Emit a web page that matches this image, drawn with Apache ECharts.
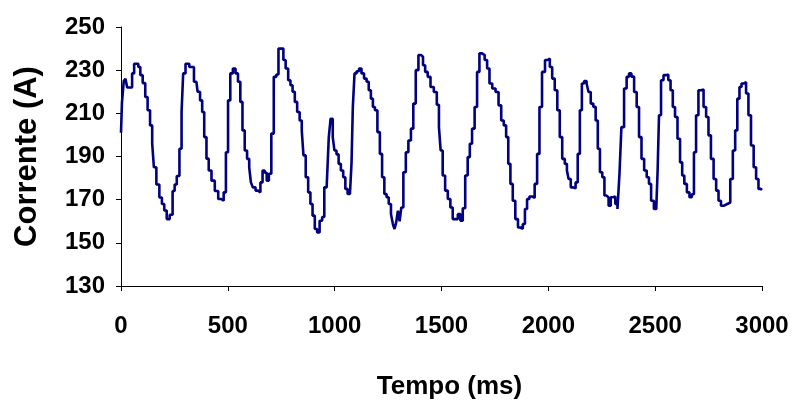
<!DOCTYPE html>
<html>
<head>
<meta charset="utf-8">
<script src="https://cdn.jsdelivr.net/npm/echarts@6/dist/echarts.min.js"></script>
<style>
  html, body { margin: 0; padding: 0; background: #fff; }
  #main { width: 795px; height: 406px; }
</style>
</head>
<body>
<div id="main"></div>
<script>
// tempo (ms) e corrente (A)
const timeMs = [
  0, 9, 17, 25, 33, 48, 56, 67, 76, 86, 95, 108, 119, 130, 142, 150, 158, 173, 186, 197,
  208, 220, 236, 247, 255, 267, 280, 287, 295, 309, 330, 353, 364, 376, 384, 395, 405, 416, 431, 447,
  463, 475, 486, 496, 506, 517, 530, 542, 553, 564, 573, 585, 595, 605, 611, 623, 636, 647, 658, 667,
  678, 686, 698, 709, 721, 733, 741, 756, 764, 777, 788, 798, 808, 819, 830, 842, 850, 858, 871, 881,
  892, 901, 913, 923, 936, 947, 956, 970, 975, 987, 995, 1003, 1014, 1023, 1035, 1045, 1055, 1066, 1077, 1081,
  1089, 1097, 1108, 1120, 1131, 1144, 1155, 1164, 1175, 1183, 1194, 1206, 1217, 1227, 1238, 1248, 1258, 1269, 1276, 1284,
  1292, 1300, 1308, 1316, 1327, 1339, 1351, 1363, 1373, 1386, 1398, 1410, 1417, 1430, 1441, 1456, 1472, 1484, 1492, 1500,
  1511, 1523, 1536, 1547, 1558, 1570, 1583, 1594, 1605, 1617, 1628, 1637, 1649, 1661, 1672, 1683, 1696, 1708, 1719, 1730,
  1745, 1761, 1773, 1786, 1797, 1808, 1817, 1828, 1839, 1852, 1864, 1875, 1886, 1895, 1906, 1917, 1930, 1942, 1953, 1964,
  1977, 1992, 2002, 2012, 2024, 2036, 2048, 2059, 2071, 2083, 2091, 2099, 2111, 2122, 2133, 2142, 2153, 2161, 2174, 2184,
  2192, 2205, 2216, 2227, 2236, 2247, 2258, 2267, 2278, 2286, 2298, 2310, 2317, 2330, 2336, 2348, 2361, 2372, 2383, 2395,
  2408, 2419, 2430, 2442, 2455, 2466, 2476, 2486, 2502, 2509, 2514, 2522, 2533, 2545, 2556, 2567, 2577, 2588, 2598, 2611,
  2622, 2631, 2642, 2655, 2666, 2677, 2686, 2697, 2708, 2720, 2733, 2744, 2755, 2767, 2780, 2791, 2802, 2814, 2830, 2845,
  2858, 2869, 2880, 2889, 2900, 2908, 2920, 2931, 2942, 2955, 2967, 2978, 2989, 3000
];
const currentA = [
  201, 215, 225, 226, 222, 222, 228.5, 233, 233, 231.5, 227.7, 224, 217.6, 211.4, 204.4, 196, 185, 177, 171, 168,
  165, 161, 163, 174, 177, 181, 193.6, 210.6, 228.5, 233, 231.5, 224.6, 220, 216, 210.6, 199, 189, 183.5, 178.8, 174,
  170.3, 169.5, 173.4, 192, 216, 228.5, 230.8, 228.5, 224.6, 215.3, 202.1, 192.8, 188.9, 185, 178, 175.7, 174.2, 173.4, 178, 183.5,
  182.5, 178.8, 182, 200.6, 226.9, 228, 240, 240, 234.7, 230.8, 225.3, 223, 220, 215.3, 210.6, 206.7, 202, 190.5, 180.4, 173.4,
  168, 162.6, 156.4, 154.8, 160.2, 162, 175.7, 177, 199, 207.5, 199, 192.8, 191, 186.6, 183.5, 180.4, 175, 172.6, 172.6, 187.3,
  212.9, 228.5, 229.5, 230.8, 228.5, 226.1, 224.6, 220.7, 216.8, 212.9, 211.4, 201.3, 191.2, 180.4, 172.6, 171.1, 168, 163.3, 158.7, 156.4,
  159.5, 164.9, 160, 166.4, 182.7, 192, 197.4, 202.9, 214.5, 230, 237, 236.2, 232.3, 229.2, 226.9, 222.2, 219.9, 214, 203.6, 192.8,
  181.2, 174.2, 170.3, 166.4, 161, 161, 163.3, 160.2, 166, 181.2, 189.7, 195.9, 202.9, 212.9, 229.2, 237.8, 237, 234.7, 230.8, 223.8,
  221.5, 219.9, 213.7, 206.7, 204.4, 199, 186.6, 177.3, 169.5, 161, 157.1, 156.5, 158.7, 165.7, 170.3, 171.5, 170.8, 177.3, 191.2, 212.9,
  229.2, 234.7, 235.4, 231.5, 226.1, 220.7, 211.4, 199, 188.9, 186.6, 183.5, 179.6, 175.7, 175.2, 178, 191.2, 211.4, 223.8, 225, 223.8,
  219.9, 214.5, 213, 206.7, 193.6, 182.7, 180.4, 171.9, 171, 167.2, 171.1, 171.5, 168, 165.7, 182, 203.6, 221.5, 226.9, 228.5, 227,
  219.9, 212.9, 199, 188.9, 183.5, 180.4, 177.3, 169.5, 165.7, 167, 183.5, 209.1, 225.3, 227.7, 228, 225.3, 220.7, 212.9, 208.3, 198.2,
  187.3, 181.2, 177.3, 173.4, 171.1, 172.5, 192, 209.1, 220.7, 221, 212.9, 208.3, 199.8, 188.9, 179.6, 174.2, 169.5, 167.2, 168, 168.7,
  179.6, 192.8, 202.1, 216.8, 222.2, 223.8, 224.5, 219.2, 209.1, 195.1, 185, 179.6, 175, 174.5
];
const xTicks = [0, 500, 1000, 1500, 2000, 2500, 3000];
const yTicks = [130, 150, 170, 190, 210, 230, 250];

const chart = echarts.init(document.getElementById('main'));
const fontFamily = '"Liberation Sans", Arial, sans-serif';

chart.setOption({
  animation: false,
  grid: { left: 121, right: 33, top: 27, bottom: 120 },
  xAxis: {
    type: 'value',
    min: xTicks[0],
    max: xTicks[xTicks.length - 1],
    interval: 500,
    name: 'Tempo (ms)',
    nameLocation: 'middle',
    nameGap: 88,
    nameTextStyle: { fontFamily, fontSize: 26, fontWeight: 'bold', color: '#000', padding: [0, 0, 0, 16] },
    axisLine: { onZero: false, lineStyle: { color: '#000', width: 1 } },
    axisTick: { show: true, length: 5, lineStyle: { color: '#000' } },
    axisLabel: { fontFamily, fontSize: 24, fontWeight: 'bold', color: '#000', margin: 28, formatter: v => String(v) },
    splitLine: { show: false }
  },
  yAxis: {
    type: 'value',
    min: yTicks[0],
    max: yTicks[yTicks.length - 1],
    interval: 20,
    name: 'Corrente (A)',
    nameLocation: 'middle',
    nameGap: 78,
    nameTextStyle: { fontFamily, fontSize: 31, fontWeight: 'bold', color: '#000' },
    axisLine: { show: true, lineStyle: { color: '#000', width: 1 } },
    axisTick: { show: true, length: 5, lineStyle: { color: '#000' } },
    axisLabel: { fontFamily, fontSize: 24, fontWeight: 'bold', color: '#000', margin: 16, formatter: v => String(v) },
    splitLine: { show: false }
  },
  series: [{
    type: 'line',
    step: 'middle',
    data: timeMs.map((t, i) => [t, currentA[i]]),
    showSymbol: false,
    lineStyle: { color: '#000080', width: 2.6 }
  }]
});
</script>
</body>
</html>
